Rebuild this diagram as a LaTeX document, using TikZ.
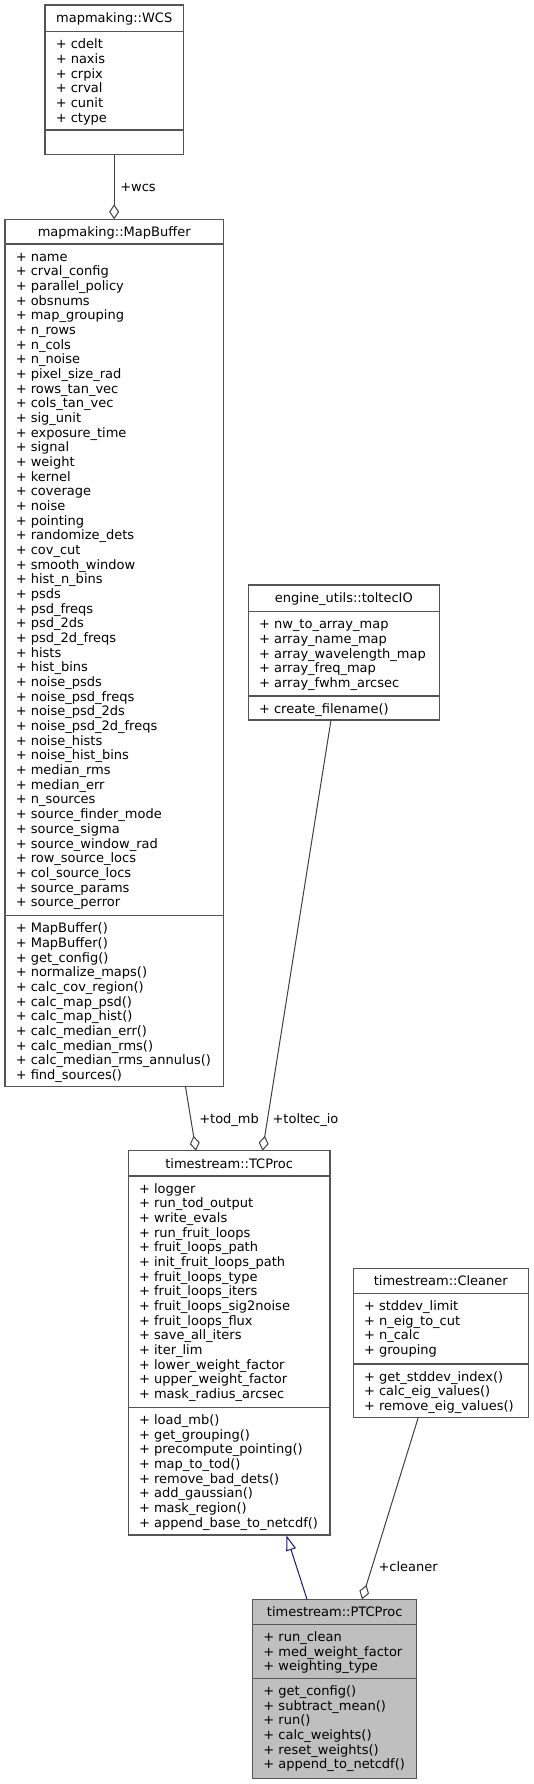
\documentclass[tikz,border=0pt]{standalone}
\usepackage{fontspec}
\setmainfont{DejaVu Sans}
\usetikzlibrary{arrows.meta,fit}
\definecolor{edgegray}{HTML}{404040}
\definecolor{bordergray}{HTML}{555555}
\definecolor{inhblue}{HTML}{191970}
\definecolor{boxgray}{HTML}{BFBFBF}
\tikzset{
  umlbox/.style={draw=bordergray, line width=1.05pt, inner sep=0pt, outer sep=0pt},
  rowtxt/.style={anchor=base west, inner sep=0pt, font=\fontsize{9.75}{11}\selectfont},
  titletxt/.style={anchor=base, inner sep=0pt, font=\fontsize{9.75}{11}\selectfont},
  lbl/.style={anchor=base west, inner sep=0pt, font=\fontsize{9.75}{11}\selectfont},
  assoc/.style={draw=edgegray, line width=0.75pt, -{Diamond[open, length=11.25pt, width=7.5pt, fill=white]}},
  inherit/.style={draw=inhblue, line width=0.75pt, -{Triangle[open, length=11.25pt, width=7.5pt, fill=white]}},
  sepline/.style={draw=bordergray, line width=1.05pt}
}
\newcommand\classrows[3]{%
  \foreach \txt [count=\i from 0] in {#3}
    \node[rowtxt] at ({#1+10.5},{#2+17.2+14.67*\i}) {+ \txt};}
\begin{document}
\begin{tikzpicture}[x=0.75pt,y=-0.75pt]
\useasboundingbox (0,0) rectangle (534,1784);

% ---- mapmaking::WCS
\node[umlbox, fit={(45,5) (183.3,154.5)}] (wcs) {};
\draw[sepline] (45,31.7) -- (183.3,31.7);
\draw[sepline] (45,130) -- (183.3,130);
\node[titletxt] (wcsT) at (114.2,23.0) {mapmaking::WCS};
\classrows{45}{31.7}{cdelt,naxis,crpix,crval,cunit,ctype}

% ---- mapmaking::MapBuffer
\node[umlbox, fit={(5,219.3) (223.3,1086.7)}] (mb) {};
\draw[sepline] (5,244) -- (223.3,244);
\draw[sepline] (5,915.7) -- (223.3,915.7);
\node[titletxt] (mbT) at (114.2,236.3) {mapmaking::MapBuffer};
\classrows{5}{244}{name,crval\_config,parallel\_policy,obsnums,map\_grouping,n\_rows,n\_cols,n\_noise,pixel\_size\_rad,rows\_tan\_vec,cols\_tan\_vec,sig\_unit,exposure\_time,signal,weight,kernel,coverage,noise,pointing,randomize\_dets,cov\_cut,smooth\_window,hist\_n\_bins,psds,psd\_freqs,psd\_2ds,psd\_2d\_freqs,hists,hist\_bins,noise\_psds,noise\_psd\_freqs,noise\_psd\_2ds,noise\_psd\_2d\_freqs,noise\_hists,noise\_hist\_bins,median\_rms,median\_err,n\_sources,source\_finder\_mode,source\_sigma,source\_window\_rad,row\_source\_locs,col\_source\_locs,source\_params,source\_perror}
\classrows{5}{915.7}{MapBuffer(),MapBuffer(),get\_config(),normalize\_maps(),calc\_cov\_region(),calc\_map\_psd(),calc\_map\_hist(),calc\_median\_err(),calc\_median\_rms(),calc\_median\_rms\_annulus(),find\_sources()}

% ---- engine_utils::toltecIO
\node[umlbox, fit={(248.3,585) (439.3,720)}] (tio) {};
\draw[sepline] (248.3,611.7) -- (439.3,611.7);
\draw[sepline] (248.3,696) -- (439.3,696);
\node[titletxt] (tioT) at (343.8,602.9) {engine\_utils::toltecIO};
\classrows{248.3}{611.7}{nw\_to\_array\_map,array\_name\_map,array\_wavelength\_map,array\_freq\_map,array\_fwhm\_arcsec}
\classrows{248.3}{696}{create\_filename()}

% ---- timestream::TCProc
\node[umlbox, fit={(128.3,1150.7) (330,1535)}] (tcp) {};
\draw[sepline] (128.3,1176) -- (330,1176);
\draw[sepline] (128.3,1407.3) -- (330,1407.3);
\node[titletxt] (tcpT) at (229.2,1168.0) {timestream::TCProc};
\classrows{128.3}{1176}{logger,run\_tod\_output,write\_evals,run\_fruit\_loops,fruit\_loops\_path,init\_fruit\_loops\_path,fruit\_loops\_type,fruit\_loops\_iters,fruit\_loops\_sig2noise,fruit\_loops\_flux,save\_all\_iters,iter\_lim,lower\_weight\_factor,upper\_weight\_factor,mask\_radius\_arcsec}
\classrows{128.3}{1407.3}{load\_mb(),get\_grouping(),precompute\_pointing(),map\_to\_tod(),remove\_bad\_dets(),add\_gaussian(),mask\_region(),append\_base\_to\_netcdf()}

% ---- timestream::Cleaner
\node[umlbox, fit={(353.3,1268.3) (528.3,1417.3)}] (cln) {};
\draw[sepline] (353.3,1293.3) -- (528.3,1293.3);
\draw[sepline] (353.3,1364) -- (528.3,1364);
\node[titletxt] (clnT) at (440.8,1285.4) {timestream::Cleaner};
\classrows{353.3}{1293.3}{stddev\_limit,n\_eig\_to\_cut,n\_calc,grouping}
\classrows{353.3}{1364}{get\_stddev\_index(),calc\_eig\_values(),remove\_eig\_values()}

% ---- timestream::PTCProc
\node[umlbox, fill=boxgray, fit={(252.7,1599.3) (416.7,1778.3)}] (ptc) {};
\draw[sepline] (252.7,1624.3) -- (416.7,1624.3);
\draw[sepline] (252.7,1678.3) -- (416.7,1678.3);
\node[titletxt] (ptcT) at (334.7,1616.4) {timestream::PTCProc};
\classrows{252.7}{1624.3}{run\_clean,med\_weight\_factor,weighting\_type}
\classrows{252.7}{1678.3}{get\_config(),subtract\_mean(),run(),calc\_weights(),reset\_weights(),append\_to\_netcdf()}

% ---- connector end points on the boxes
\coordinate (wcsOut) at (wcs.south);
\coordinate (mbIn) at (mb.north);
\coordinate (mbOut) at (185.5,1086.7);
\coordinate (tcpInA) at (196,1150.7);
\coordinate (tioOut) at (331,720);
\coordinate (tcpInB) at (262.5,1150.7);
\coordinate (clnOut) at (418.3,1417.3);
\coordinate (ptcInA) at (362,1599.3);
\coordinate (ptcOut) at (307,1599.3);
\coordinate (tcpBase) at (286.5,1535.5);

% ---- connectors
\draw[assoc] (wcsOut) -- (mbIn);
\node[lbl] (lwcs) at (120,191.6) {+wcs};
\draw[assoc] (mbOut) -- (tcpInA);
\node[lbl] (ltod) at (199,1123.6) {+tod\_mb};
\draw[assoc] (tioOut) -- (tcpInB);
\node[lbl] (ltio) at (272.3,1123.6) {+toltec\_io};
\draw[assoc] (clnOut) -- (ptcInA);
\node[lbl] (lcln) at (378.3,1571.3) {+cleaner};
\draw[inherit] (ptcOut) -- (tcpBase);
\end{tikzpicture}
\end{document}
